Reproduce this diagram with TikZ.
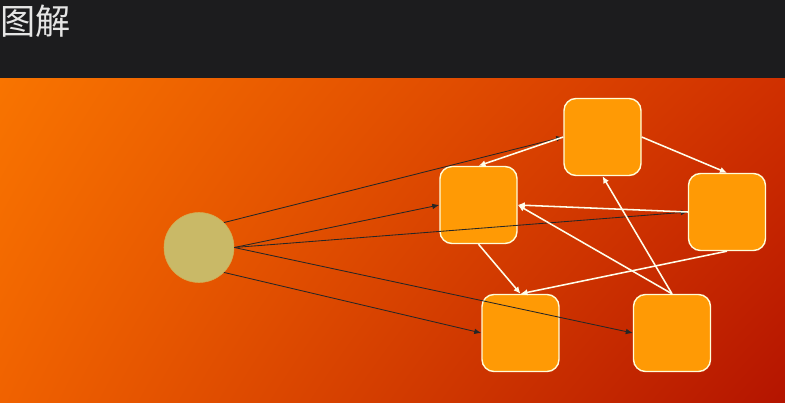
\documentclass[tikz,border=0pt]{standalone}
\usepackage{fontspec}
\usepackage{xcolor}
\usepackage{tikz}
\usetikzlibrary{arrows.meta,positioning,shadings}
\newfontfamily\cjk{Noto Sans CJK SC}

\definecolor{bandgray}{HTML}{1C1C1E}
\definecolor{boxorange}{HTML}{FF9A05}
\definecolor{khaki}{HTML}{C9B967}
\definecolor{bgTL}{HTML}{F87400}
\definecolor{bgTR}{HTML}{D03000}
\definecolor{bgBL}{HTML}{F06200}
\definecolor{bgBR}{HTML}{B41400}

\tikzset{
	box/.style={draw=white!85!yellow, line width=1pt, fill=boxorange, rounded corners=0.3cm, minimum size=1.925cm, inner sep=0pt},
	source/.style={circle, fill=khaki, draw=khaki!80!orange, line width=0.4pt, minimum size=1.75cm, inner sep=0pt},
	blackarrow/.style={draw=black!85, line width=0.6pt, -{Latex[length=5pt,width=4pt]}},
	whitearrow/.style={draw=white!92!yellow, line width=1.1pt, -{Latex[length=5pt,width=4.5pt]}}
}

\begin{document}
\begin{tikzpicture}
		\useasboundingbox (0,0) rectangle (19.625,10.075);
		
		% Background (orange part)
		\shade[upper left=bgTL, upper right=bgTR, lower left=bgBL, lower right=bgBR] (0,0) rectangle (19.625,8.125);
		
		% Title bar
		\fill[bandgray] (0,8.125) rectangle (19.625,10.075);
		\node[anchor=base west, inner sep=0pt, text=white!90!black, font=\cjk\fontsize{25}{30}\selectfont] (title) at (0,9.2125) {图解};
		
		% Nodes
		\node[source] (src) at (4.975,3.8875) {};
		\node[box] (top) at (15.0625,6.65) {};
		\node[box] (left) at (11.9625,4.95) {};
		\node[box] (right) at (18.175,4.775) {};
		\node[box] (botleft) at (13.0125,1.75) {};
		\node[box] (botright) at (16.8,1.75) {};
		
		% Black arrows from the circle
		\draw[blackarrow] (src.45) -- (top.west);
		\draw[blackarrow] (src.east) -- (left.west);
		\draw[blackarrow] (src.east) -- (right.west);
		\draw[blackarrow] (src.east) -- (botright.west);
		\draw[blackarrow] (src.-45) -- (botleft.west);
		
		% White arrows between the boxes
		\draw[whitearrow] (top.west) -- (left.north);
		\draw[whitearrow] (top.east) -- (right.north);
		\draw[whitearrow] (right.west) -- (left.east);
		\draw[whitearrow] (botright.north) -- (left.east);
		\draw[whitearrow] (botright.north) -- (top.south);
		\draw[whitearrow] (left.south) -- (botleft.north);
		\draw[whitearrow] (right.south) -- (botleft.north);
		
	\end{tikzpicture}
\end{document}
